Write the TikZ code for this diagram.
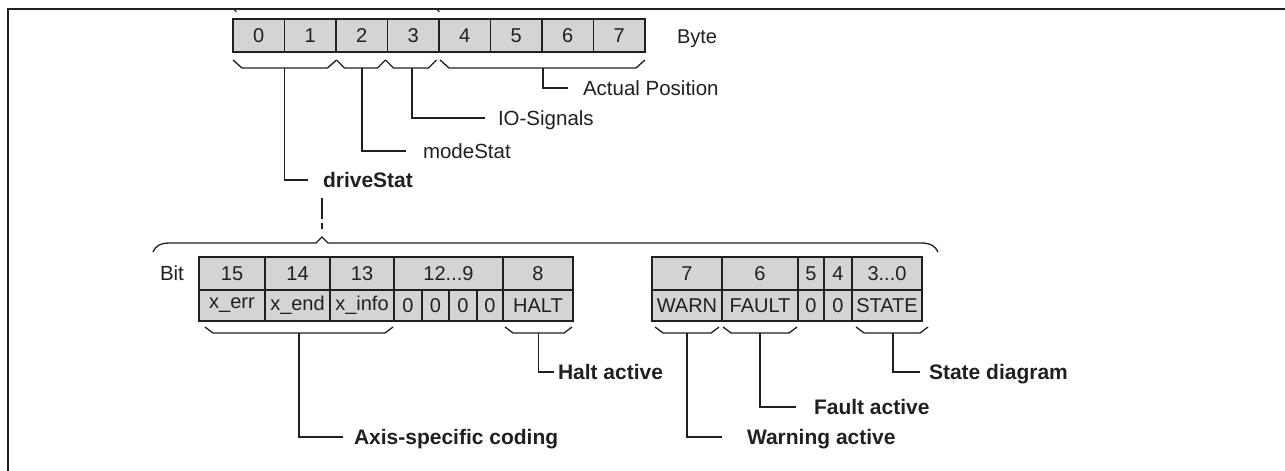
\documentclass[tikz,border=0pt]{standalone}
\usepackage{fontspec}
\setmainfont{Liberation Sans}
\definecolor{ink}{RGB}{35,31,32}
\definecolor{cellgray}{RGB}{212,212,212}
\tikzset{
  cell/.style={draw=ink, fill=cellgray, line width=1.8pt, inner sep=0pt, outer sep=0pt,
               font=\fontsize{20}{24}\selectfont, text=ink},
  conn/.style={draw=ink, line width=1.3pt},
  lbl/.style={anchor=base west, inner sep=0pt, outer sep=0pt, font=\fontsize{20.5}{24}\selectfont, text=ink},
  blbl/.style={lbl, font=\fontsize{21}{24}\selectfont\bfseries},
  frame/.style={draw=ink, line width=2pt}
}
\newcommand\mycell[6]{%
  \node[cell, minimum width={(#4-#2)*1pt}, minimum height={(#5-#3)*1pt}] (#1) at ({(#2+#4)/2},{(#3+#5)/2}) {#6};}
\newcommand\mybrace[5]{% x1, x2, ytop, ybot, dx
  \draw[conn] (#1,#3) -- ({#1+#5},#4) -- ({#2-#5},#4) -- (#2,#3);}
\begin{document}
\begin{tikzpicture}[x=1pt,y=-1pt]
\useasboundingbox (0,0) rectangle (1285,471);
% frame
\draw[frame] (8.3,471) -- (8.3,9.3) -- (1285,9.3);
\draw[conn, line width=1pt] (234,9.3) -- (236.5,12);
\draw[conn, line width=1pt] (437,9.3) -- (439.5,12);

% byte row
\mycell{b0}{233}{19}{284.5}{52}{0}
\mycell{b1}{284.5}{19}{336}{52}{1}
\mycell{b2}{336}{19}{387.5}{52}{2}
\mycell{b3}{387.5}{19}{439}{52}{3}
\mycell{b4}{439}{19}{490.5}{52}{4}
\mycell{b5}{490.5}{19}{542}{52}{5}
\mycell{b6}{542}{19}{593.5}{52}{6}
\mycell{b7}{593.5}{19}{645}{52}{7}
\node[lbl, font=\fontsize{20}{24}\selectfont] (byte) at (677,43.5) {Byte};

% byte braces
\mybrace{233}{336.5}{60}{68}{9}
\mybrace{336.5}{385.5}{60}{68}{8}
\mybrace{385.5}{436.5}{60}{68}{8}
\mybrace{440}{645}{60}{68}{9}

% top labels
\coordinate (t0) at (284.5,68);
\coordinate (t1) at (362,68);
\coordinate (t2) at (412,68);
\coordinate (t3) at (543,68);
\coordinate (e0) at (308,180);
\coordinate (e1) at (406,151);
\coordinate (e2) at (485,118);
\coordinate (e3) at (568,88);
\node[blbl] (drive) at (323,187.5) {driveStat};
\node[lbl] (mode) at (423,158.5) {modeStat};
\node[lbl] (io) at (498,125.5) {IO-Signals};
\node[lbl] (pos) at (583,95.5) {Actual Position};
\draw[conn] (t0) |- (e0);
\draw[conn] (t1) |- (e1);
\draw[conn] (t2) |- (e2);
\draw[conn] (t3) |- (e3);

% dashed link and big brace
\coordinate (d0) at (322,198);
\coordinate (d1) at (322,232);
\draw[conn, dash pattern=on 21pt off 4pt on 6pt off 10pt] (d0) -- (d1);
\draw[conn] (153,252) .. controls (155.5,246) and (160,243) .. (170,243)
  -- (316,243) -- (322,237) -- (328,243) -- (921,243)
  .. controls (930,243) and (935.5,246) .. (938,252);

% bit table
\node[lbl] (bit) at (160,280.5) {Bit};
\mycell{c15}{199}{257}{265}{290}{15}
\mycell{c14}{265}{257}{330}{290}{14}
\mycell{c13}{330}{257}{394}{290}{13}
\mycell{c129}{394}{257}{503}{290}{12...9}
\mycell{c8}{503}{257}{573}{290}{8}
\mycell{v15}{199}{290}{265}{321}{x\_err}
\mycell{v14}{265}{290}{330}{321}{x\_end}
\mycell{v13}{330}{290}{394}{321}{x\_info}
\mycell{v12}{394}{290}{422}{321}{0}
\mycell{v11}{422}{290}{449}{321}{0}
\mycell{v10}{449}{290}{477}{321}{0}
\mycell{v9}{477}{290}{503}{321}{0}
\mycell{v8}{503}{290}{573}{321}{HALT}

\mycell{c7}{652}{257}{722}{290}{7}
\mycell{c6}{722}{257}{798}{290}{6}
\mycell{c5}{798}{257}{824}{290}{5}
\mycell{c4}{824}{257}{852}{290}{4}
\mycell{c30}{852}{257}{922}{290}{3...0}
\mycell{v7}{652}{290}{722}{321}{WARN}
\mycell{v6}{722}{290}{798}{321}{FAULT}
\mycell{v5}{798}{290}{824}{321}{0}
\mycell{v4}{824}{290}{852}{321}{0}
\mycell{v30}{852}{290}{922}{321}{STATE}

% bit braces
\mybrace{205}{393}{327}{333}{8}
\mybrace{505}{572}{327}{333}{8}
\mybrace{655}{719}{327}{333}{8}
\mybrace{723}{797}{327}{333}{8}
\mybrace{856}{928}{327}{333}{8}

% bottom labels
\coordinate (s0) at (299,333);
\coordinate (s1) at (538.5,333);
\coordinate (s2) at (687,333);
\coordinate (s3) at (760,333);
\coordinate (s4) at (893,333);
\coordinate (f0) at (343,437);
\coordinate (f1) at (554,372);
\coordinate (f2) at (722,437);
\coordinate (f3) at (796,407);
\coordinate (f4) at (920,372);
\node[blbl] (axis) at (354,444.5) {Axis-specific coding};
\node[blbl] (halt) at (558,379.5) {Halt active};
\node[blbl] (warn) at (747,444.5) {Warning active};
\node[blbl] (fault) at (814,414.5) {Fault active};
\node[blbl] (state) at (929,379.5) {State diagram};
\draw[conn] (s0) |- (f0);
\draw[conn] (s1) |- (f1);
\draw[conn] (s2) |- (f2);
\draw[conn] (s3) |- (f3);
\draw[conn] (s4) |- (f4);
\end{tikzpicture}
\end{document}
